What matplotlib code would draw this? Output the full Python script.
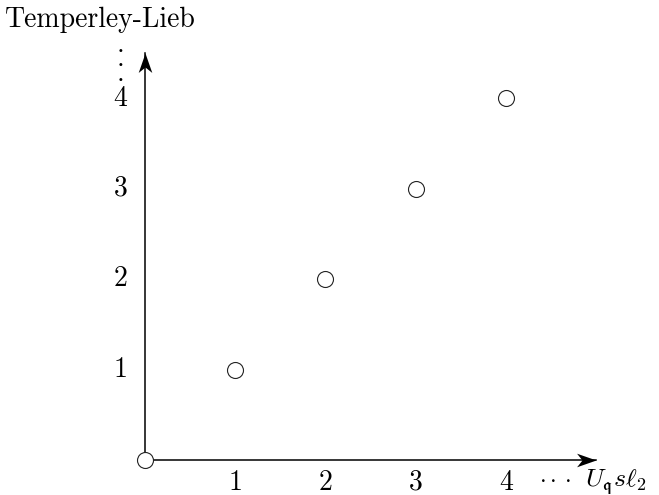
import matplotlib
matplotlib.use("Agg")
import matplotlib.pyplot as plt
from matplotlib.path import Path

plt.rcParams['font.family'] = ['cmr10', 'DejaVu Serif']
plt.rcParams['mathtext.fontset'] = 'cm'
plt.rcParams['axes.formatter.use_mathtext'] = True

# data
points_x = [0, 1, 2, 3, 4]
points_y = [0, 1, 2, 3, 4]
x_ticks = [1, 2, 3, 4]
y_ticks = [1, 2, 3, 4]
x_label = r"$U_\mathfrak{q} s\ell_2$"
y_label = "Temperley-Lieb"

fig = plt.figure(figsize=(6.59, 4.95), dpi=100)
ax = fig.add_axes([0, 0, 1, 1])
ax.set_xlim(-1.608, 5.698)
ax.set_ylim(-0.387, 5.088)
ax.axis('off')

# stealth-like arrow heads, tip at the marker origin
head_right = Path([(0, 0), (-1, 0.35), (-0.72, 0), (-1, -0.35), (0, 0)],
                  [Path.MOVETO, Path.LINETO, Path.LINETO, Path.LINETO, Path.CLOSEPOLY])
head_up = Path([(0, 0), (0.35, -1), (0, -0.72), (-0.35, -1), (0, 0)],
               [Path.MOVETO, Path.LINETO, Path.LINETO, Path.LINETO, Path.CLOSEPOLY])

ax.plot([0, 5.0], [0, 0], color='black', lw=1.1)
ax.plot([5.0], [0], marker=head_right, ms=28, color='black', mew=0)
ax.plot([0, 0], [0, 4.5], color='black', lw=1.1)
ax.plot([0], [4.5], marker=head_up, ms=28, color='black', mew=0)

ax.plot(points_x, points_y, 'o', ms=11.5, mfc='white', mec='#222222', mew=0.8,
        linestyle='none', zorder=5)

fs = 20
for t in x_ticks:
    ax.text(t, -0.25, str(t), ha='center', va='center', fontsize=fs)
for t in y_ticks:
    ax.text(-0.27, t, str(t), ha='center', va='center', fontsize=fs)

# continuation dots
ax.text(4.545, -0.21, r"$\cdot\cdot\cdot$", ha='center', va='center', fontsize=17)
ax.text(-0.28, 4.40, "$\\cdot$\n$\\cdot$\n$\\cdot$", ha='center', va='center',
        fontsize=fs, linespacing=0.43)

ax.text(4.88, -0.25, x_label, ha='left', va='center', fontsize=18.5)
ax.text(-0.5, 4.87, y_label, ha='center', va='center', fontsize=fs)

fig.savefig("out.png", dpi=100)
